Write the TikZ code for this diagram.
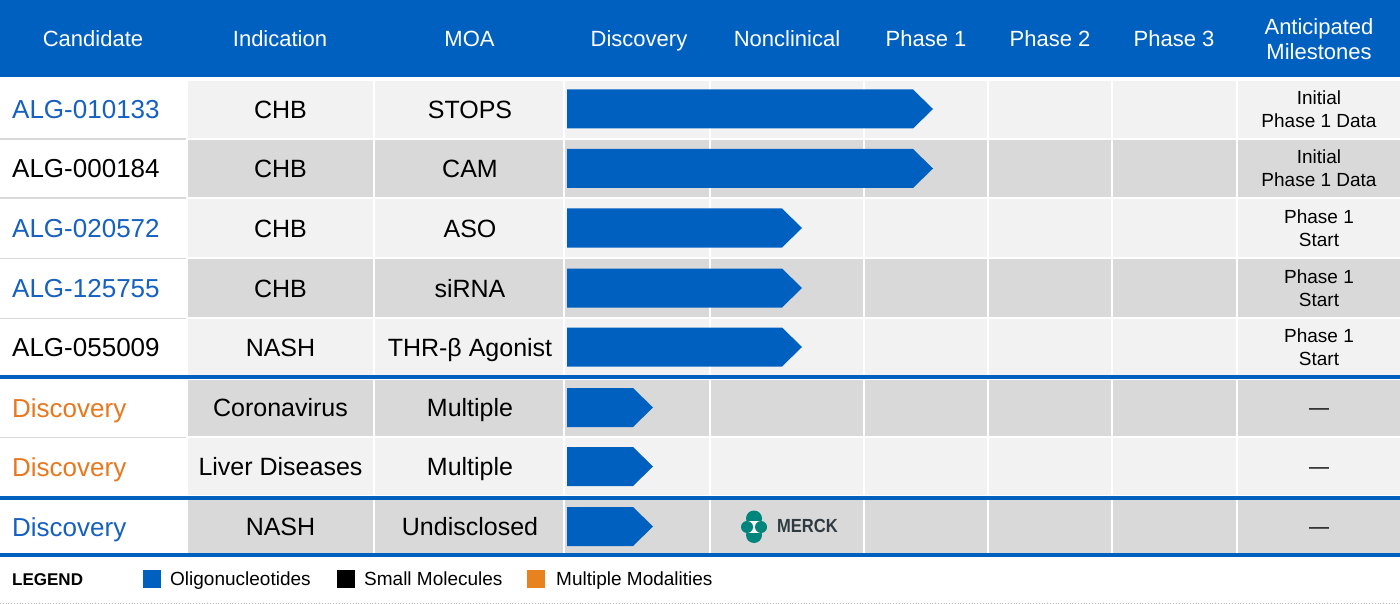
\documentclass[tikz,border=0pt]{standalone}
\usepackage{fontspec}
\setmainfont{Liberation Sans}
\definecolor{hblue}{HTML}{0060C0}
\definecolor{cblue}{HTML}{1560C0}
\definecolor{corange}{HTML}{E8781E}
\definecolor{lorange}{HTML}{E8821E}
\definecolor{lgray}{HTML}{F2F2F2}
\definecolor{dgray}{HTML}{D9D9D9}
\definecolor{mteal}{HTML}{00857C}
\definecolor{mgray}{HTML}{2F3B40}
\tikzset{
 hdr/.style={text=white, font=\fontsize{22}{25}\selectfont, align=center, inner sep=0pt},
 hdrb/.style={hdr, anchor=base},
 body/.style={font=\fontsize{25}{30}\selectfont, inner sep=0pt, anchor=base},
 cand/.style={font=\fontsize{26}{30}\selectfont, inner sep=0pt, anchor=base west},
 mile/.style={font=\fontsize{19}{23}\selectfont, align=center, inner sep=0pt},
 emdash/.style={font=\fontsize{20}{23}\selectfont, inner sep=0pt, anchor=base},
 leg/.style={font=\fontsize{19}{22}\selectfont, inner sep=0pt, anchor=base west},
 legbox/.style={inner sep=0pt, minimum width=18pt, minimum height=18pt},
}
\newcommand{\rowcells}[3]{%
 \foreach \xa/\xb in {188/373,375/563,565/709,711/863,865/987,989/1111,1113/1236,1238/1400}{%
  \fill[#3] (\xa,#1) rectangle (\xb,#2);}}
\newcommand{\pbar}[2]{%
 \fill[hblue] (567,#1-19.5) -- (#2,#1-19.5) -- (#2+20,#1) -- (#2,#1+19.5) -- (567,#1+19.5) -- cycle;}
\begin{document}
\begin{tikzpicture}[x=1pt,y=-1pt]
\useasboundingbox (0,0) rectangle (1400,604);
\fill[white] (0,0) rectangle (1400,604);
% header
\fill[hblue] (0,0) rectangle (1400,77);
\node[hdrb] (hcand) at (93,47) {Candidate};
\node[hdrb] (hind) at (280,47) {Indication};
\node[hdrb] (hmoa) at (469.5,47) {MOA};
\node[hdrb] (hdisc) at (639,47) {Discovery};
\node[hdrb] (hnon) at (787,47) {Nonclinical};
\node[hdrb] (hp1) at (926,47) {Phase 1};
\node[hdrb] (hp2) at (1050,47) {Phase 2};
\node[hdrb] (hp3) at (1174,47) {Phase 3};
\node[hdr] (hmile) at (1319,39.5) {Anticipated\\Milestones};
% row backgrounds
\rowcells{81}{138}{lgray}
\rowcells{140}{197}{dgray}
\rowcells{199}{257}{lgray}
\rowcells{259}{317}{dgray}
\rowcells{319}{375}{lgray}
\rowcells{380}{436}{dgray}
\rowcells{438}{495}{lgray}
\rowcells{500}{553}{dgray}
% candidate separators
\foreach \yy in {138,197.5,257.5,317.5,436.5}{\fill[dgray] (0,\yy) rectangle (186,\yy+1.8);}
% blue rules
\fill[hblue] (0,375) rectangle (1400,379);
\fill[hblue] (0,496) rectangle (1400,500);
\fill[hblue] (0,553) rectangle (1400,557);
% bars
\pbar{109}{913}
\pbar{168.5}{913}
\pbar{228}{782}
\pbar{288}{782}
\pbar{347}{782}
\pbar{407.5}{633}
\pbar{466.5}{633}
\pbar{526.5}{633}
% row 1
\node[cand, text=cblue] (c1) at (12,118.8) {ALG-010133};
\node[body] (i1) at (280.5,118.5) {CHB};
\node[body] (m1) at (470,118.5) {STOPS};
\node[mile] (s1) at (1319,109.5) {Initial\\Phase 1 Data};
% row 2
\node[cand] (c2) at (12,178) {ALG-000184};
\node[body] (i2) at (280.5,177.5) {CHB};
\node[body] (m2) at (470,177.5) {CAM};
\node[mile] (s2) at (1319,168.5) {Initial\\Phase 1 Data};
% row 3
\node[cand, text=cblue] (c3) at (12,237.5) {ALG-020572};
\node[body] (i3) at (280.5,237) {CHB};
\node[body] (m3) at (470,237) {ASO};
\node[mile] (s3) at (1319,228) {Phase 1\\Start};
% row 4
\node[cand, text=cblue] (c4) at (12,297.5) {ALG-125755};
\node[body] (i4) at (280.5,297) {CHB};
\node[body] (m4) at (470,297) {siRNA};
\node[mile] (s4) at (1319,288) {Phase 1\\Start};
% row 5
\node[cand] (c5) at (12,356.5) {ALG-055009};
\node[body] (i5) at (280.5,356) {NASH};
\node[body] (m5) at (470,356) {THR-β Agonist};
\node[mile] (s5) at (1319,347) {Phase 1\\Start};
% row 6
\node[cand, text=corange] (c6) at (12,417) {Discovery};
\node[body] (i6) at (280.5,416.5) {Coronavirus};
\node[body] (m6) at (470,416.5) {Multiple};
\node[emdash] (s6) at (1319,414) {—};
% row 7
\node[cand, text=corange] (c7) at (12,476) {Discovery};
\node[body] (i7) at (280.5,475.5) {Liver Diseases};
\node[body] (m7) at (470,475.5) {Multiple};
\node[emdash] (s7) at (1319,473) {—};
% row 8
\node[cand, text=cblue] (c8) at (12,536) {Discovery};
\node[body] (i8) at (280.5,535.5) {NASH};
\node[body] (m8) at (470,535.5) {Undisclosed};
\node[emdash] (s8) at (1319,533) {—};
% Merck logo
\fill[mteal] (754,518.5) circle (8);
\fill[mteal] (754,535) circle (8);
\fill[white] (748,521.3) rectangle (760,532.5);
\fill[mteal] (747,527) circle (6);
\fill[mteal] (761,527) circle (6);
\node[font=\bfseries\fontsize{19}{22}\selectfont, text=mgray, inner sep=0pt, anchor=base west, xscale=0.87] (merck) at (777,532.5) {MERCK};
% legend
\node[font=\bfseries\fontsize{17}{20}\selectfont, inner sep=0pt, anchor=base west] (legend) at (12,585.2) {LEGEND};
\node[legbox, fill=hblue] (lb1) at (152,579) {};
\node[leg] (lt1) at (170,585.8) {Oligonucleotides};
\node[legbox, fill=black] (lb2) at (346,579) {};
\node[leg] (lt2) at (364,585.8) {Small Molecules};
\node[legbox, fill=lorange] (lb3) at (536,579) {};
\node[leg] (lt3) at (556,585.8) {Multiple Modalities};
\draw[black!30, dotted, line width=0.8pt] (0,603) -- (1400,603);
\end{tikzpicture}
\end{document}
